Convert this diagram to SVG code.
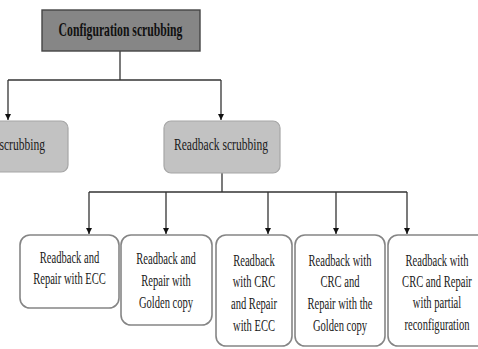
<svg xmlns="http://www.w3.org/2000/svg" width="478" height="349" viewBox="0 0 478 349">
<defs>
<style>
.t{font-family:"Liberation Serif","Times New Roman",serif;fill:#1a1a1a;text-anchor:middle}
.b15{font-size:16px}
.b16{font-size:17px}
.title{font-size:18px;font-weight:bold;fill:#111}
.leaf{fill:#ffffff;stroke:#858585;stroke-width:1.6}
.mid{fill:#c2c2c2;stroke:#a6a6a6;stroke-width:1.2}
.top{fill:#868686;stroke:#454545;stroke-width:1.4}
.ln{fill:none;stroke:#333333;stroke-width:1.3}
</style>
<marker id="ah" viewBox="0 0 10 10" refX="10" refY="5" markerWidth="6" markerHeight="8" markerUnits="userSpaceOnUse" orient="auto">
<path d="M0,0 L10,5 L0,10 z" fill="#111"/>
</marker>
</defs>
<rect width="478" height="349" fill="#ffffff"/>

<g id="connectors">
<path class="ln" d="M120,51 V80"/>
<path class="ln" d="M8,80 H221"/>
<path class="ln" d="M8,80 V120" marker-end="url(#ah)"/>
<path class="ln" d="M221,80 V120" marker-end="url(#ah)"/>
<path class="ln" d="M222,173 V192"/>
<path class="ln" d="M89,192 H407"/>
<path class="ln" d="M89,192 V234" marker-end="url(#ah)"/>
<path class="ln" d="M166,192 V234" marker-end="url(#ah)"/>
<path class="ln" d="M268,192 V234" marker-end="url(#ah)"/>
<path class="ln" d="M336,192 V234" marker-end="url(#ah)"/>
<path class="ln" d="M407,192 V234" marker-end="url(#ah)"/>
</g>

<g id="config">
<rect class="top" x="42" y="10" width="158" height="41"/>
<text class="t title" transform="translate(120.5,36) scale(0.65,1)">Configuration scrubbing</text>
</g>

<g id="blind">
<rect class="mid" x="-20" y="121" width="88" height="51" rx="7"/>
<text class="t b16" style="text-anchor:end" transform="translate(45,150) scale(0.68,1)">scrubbing</text>
</g>

<g id="readback">
<rect class="mid" x="164" y="121" width="116" height="52" rx="7"/>
<text class="t b16" transform="translate(221,150) scale(0.68,1)">Readback scrubbing</text>
</g>

<g id="leaf1">
<rect class="leaf" x="20" y="235" width="99" height="73" rx="10"/>
<text class="t b15" transform="translate(69.5,263) scale(0.66,1)">Readback and</text>
<text class="t b15" transform="translate(69.5,284) scale(0.66,1)">Repair with ECC</text>
</g>

<g id="leaf2">
<rect class="leaf" x="121" y="235" width="91" height="90" rx="10"/>
<text class="t b15" transform="translate(166,264) scale(0.66,1)">Readback and</text>
<text class="t b15" transform="translate(166,286) scale(0.66,1)">Repair with</text>
<text class="t b15" transform="translate(166,308) scale(0.66,1)">Golden copy</text>
</g>

<g id="leaf3">
<rect class="leaf" x="216" y="235" width="76" height="111" rx="10"/>
<text class="t b15" transform="translate(254,266) scale(0.66,1)">Readback</text>
<text class="t b15" transform="translate(254,287) scale(0.66,1)">with CRC</text>
<text class="t b15" transform="translate(254,309) scale(0.66,1)">and Repair</text>
<text class="t b15" transform="translate(254,331) scale(0.66,1)">with ECC</text>
</g>

<g id="leaf4">
<rect class="leaf" x="295" y="235" width="90" height="111" rx="10"/>
<text class="t b15" transform="translate(340,266) scale(0.66,1)">Readback with</text>
<text class="t b15" transform="translate(340,287) scale(0.66,1)">CRC and</text>
<text class="t b15" transform="translate(340,309) scale(0.66,1)">Repair with the</text>
<text class="t b15" transform="translate(340,331) scale(0.66,1)">Golden copy</text>
</g>

<g id="leaf5">
<rect class="leaf" x="388" y="235" width="100" height="111" rx="10"/>
<text class="t b15" transform="translate(437,266) scale(0.66,1)">Readback with</text>
<text class="t b15" transform="translate(437,287) scale(0.66,1)">CRC and Repair</text>
<text class="t b15" transform="translate(437,308) scale(0.66,1)">with partial</text>
<text class="t b15" transform="translate(437,330) scale(0.66,1)">reconfiguration</text>
</g>
</svg>
